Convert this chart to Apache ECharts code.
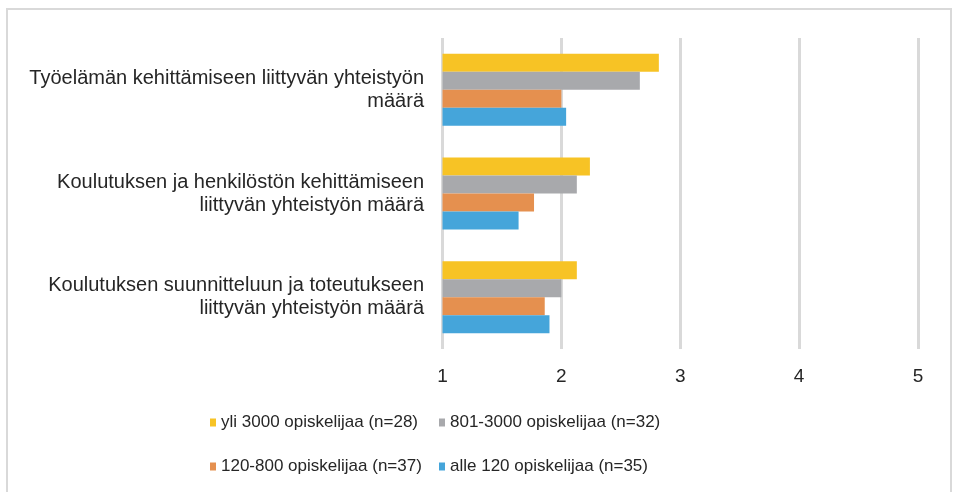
<!DOCTYPE html>
<html>
<head>
<meta charset="utf-8">
<script src="https://cdn.jsdelivr.net/npm/echarts@6/dist/echarts.min.js"></script>
<style>
  html, body { margin: 0; padding: 0; background: #fff; }
  #chart { width: 953px; height: 492px; }
</style>
</head>
<body>
<div id="chart"></div>
<script>
// kategoriat ylhäältä alas
var categories = [
  'Työelämän kehittämiseen liittyvän yhteistyön\nmäärä',
  'Koulutuksen ja henkilöstön kehittämiseen\nliittyvän yhteistyön määrä',
  'Koulutuksen suunnitteluun ja toteutukseen\nliittyvän yhteistyön määrä'
];
var seriesNames = [
  'yli 3000 opiskelijaa (n=28)',
  '801-3000 opiskelijaa (n=32)',
  '120-800 opiskelijaa (n=37)',
  'alle 120 opiskelijaa (n=35)'
];
var yli3000 = [2.82, 2.24, 2.13];
var v801_3000 = [2.66, 2.13, 2.0];
var v120_800 = [2.0, 1.77, 1.86];
var alle120 = [2.04, 1.64, 1.9];
var ticks = [1, 2, 3, 4, 5];

var colors = ['#f7c325', '#a8a9ac', '#e5904f', '#45a5da'];
var values = [yli3000, v801_3000, v120_800, alle120];

var chart = echarts.init(document.getElementById('chart'), null, { renderer: 'canvas' });

var font = '"Liberation Sans", Arial, sans-serif';

function legendItem(idx, left, top) {
  return {
    data: [seriesNames[idx]],
    left: left,
    top: top,
    icon: 'rect',
    itemWidth: 6,
    itemHeight: 8,
    padding: 0,
    selectedMode: false,
    textStyle: { fontFamily: font, fontSize: 17, color: '#262626' }
  };
}

var option = {
  color: colors,
  animation: false,
  textStyle: { fontFamily: font },
  graphic: [{
    type: 'polyline',
    shape: { points: [[7, 492], [7, 9], [951, 9], [951, 492]] },
    style: { stroke: '#d9d9d9', lineWidth: 2, fill: null }
  }],
  legend: [
    legendItem(0, 210, 414),
    legendItem(1, 439, 414),
    legendItem(2, 210, 458),
    legendItem(3, 439, 458)
  ],
  grid: {
    left: 442.5,
    right: 35,
    top: 38,
    bottom: 492 - 349,
    containLabel: false
  },
  xAxis: {
    type: 'value',
    min: 1,
    max: 5,
    interval: 1,
    axisLine: { show: false },
    axisTick: { show: false },
    splitLine: { show: true, lineStyle: { color: '#d9d9d9', width: 3 } },
    axisLabel: {
      margin: 18,
      fontSize: 19,
      color: '#262626',
      fontFamily: font,
      formatter: function (v) { return ticks.indexOf(v) >= 0 ? String(v) : ''; }
    }
  },
  yAxis: {
    type: 'category',
    inverse: true,
    data: categories,
    axisLine: { show: false },
    axisTick: { show: false },
    axisLabel: {
      margin: 18.5,
      fontSize: 20,
      lineHeight: 23,
      padding: [6, 0, 0, 0],
      color: '#262626',
      fontFamily: font,
      align: 'right'
    }
  },
  series: seriesNames.map(function (name, i) {
    return {
      name: name,
      type: 'bar',
      data: values[i],
      barWidth: 18,
      barGap: '0%',
      clip: true,
      itemStyle: { color: colors[i] }
    };
  })
};

chart.setOption(option);
</script>
</body>
</html>
